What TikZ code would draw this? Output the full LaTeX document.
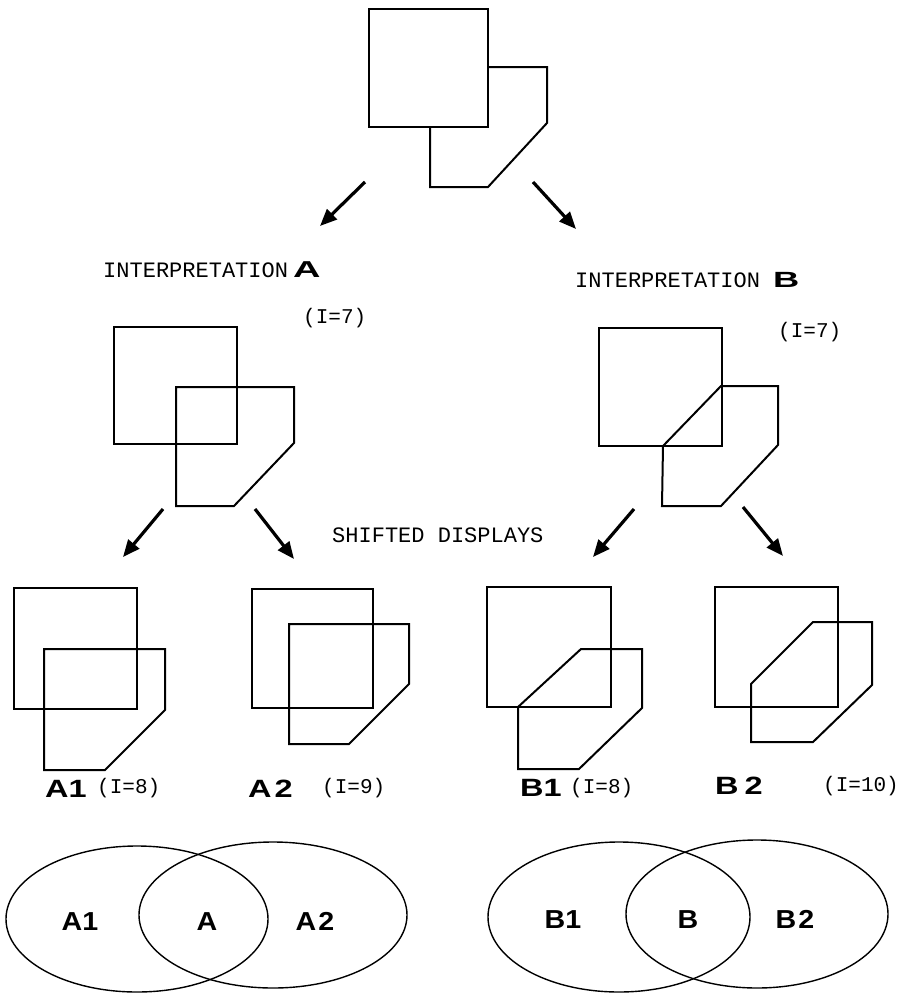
\documentclass[tikz,border=0pt]{standalone}
\usepackage{fontspec}
\setmainfont{Liberation Sans}
\newfontfamily\typefont{Liberation Mono}
\newfontfamily\wideletter[FakeStretch=1.65]{Liberation Sans}
\newfontfamily\shiftletter[FakeStretch=1.3]{Liberation Sans}
\newfontfamily\setletter[FakeStretch=1.1]{Liberation Sans}
\usetikzlibrary{arrows.meta}
\tikzset{
  outline/.style={line width=2pt, line join=miter},
  pointer/.style={line width=3.2pt, -{Triangle[length=17pt,width=14pt]}},
  tw/.style={inner sep=0pt, font=\typefont\fontsize{22}{24}\selectfont},
  twsmall/.style={inner sep=0pt, font=\typefont\fontsize{21}{23}\selectfont},
  caselabel/.style={inner sep=0pt, font=\shiftletter\bfseries\fontsize{25}{27}\selectfont},
  setlabel/.style={inner sep=0pt, font=\setletter\bfseries\fontsize{26}{28}\selectfont},
  venn/.style={line width=1.4pt}
}
\begin{document}
\begin{tikzpicture}[x=1pt,y=-1pt]
\useasboundingbox (0,0) rectangle (906,996);

% ---- ambiguous drawing ----
\draw[outline] (369,9) rectangle (488,127);
\draw[outline] (488,67) -- (547,67) -- (547,123) -- (488,187) -- (430,187) -- (430,127);

\coordinate (topL-s) at (365,182);
\coordinate (topL-e) at (320,226);
\coordinate (topR-s) at (533,182);
\coordinate (topR-e) at (576,229);
\draw[pointer] (topL-s) -- (topL-e);
\draw[pointer] (topR-s) -- (topR-e);

% ---- interpretation A ----
\node[tw, anchor=base west] (intA) at (103,277) {INTERPRETATION\hspace{5pt}{\wideletter\bfseries\fontsize{23}{25}\selectfont A}};
\node[twsmall, anchor=base west] (iA) at (303,323) {(I=7)};
\draw[outline] (114,327) rectangle (237,444);
\draw[outline] (176,387) -- (294,387) -- (294,443) -- (234,506) -- (176,506) -- cycle;

% ---- interpretation B ----
\node[tw, anchor=base west] (intB) at (575,287) {INTERPRETATION {\wideletter\bfseries\fontsize{22}{24}\selectfont B}};
\node[twsmall, anchor=base west] (iB) at (778,337) {(I=7)};
\draw[outline] (599,328) rectangle (722,446);
\draw[outline] (663,446) -- (721,386) -- (778,386) -- (778,445) -- (721,506) -- (662,506) -- cycle;

% ---- arrows to shifted displays ----
\coordinate (aL-s) at (163,509);
\coordinate (aL-e) at (123,557);
\coordinate (aR-s) at (255,509);
\coordinate (aR-e) at (294,559);
\coordinate (bL-s) at (634,509);
\coordinate (bL-e) at (593,557);
\coordinate (bR-s) at (743,507);
\coordinate (bR-e) at (783,556);
\draw[pointer] (aL-s) -- (aL-e);
\draw[pointer] (aR-s) -- (aR-e);
\draw[pointer] (bL-s) -- (bL-e);
\draw[pointer] (bR-s) -- (bR-e);

\node[tw, anchor=base west] (shifted) at (332,542) {SHIFTED DISPLAYS};

% ---- shifted displays ----
% A1
\draw[outline] (14,588) rectangle (137,709);
\draw[outline] (44,649) -- (165,649) -- (165,710) -- (105,770) -- (44,770) -- cycle;
% A2
\draw[outline] (252,589) rectangle (373,708);
\draw[outline] (289,624) -- (409,624) -- (409,684) -- (349,744) -- (289,744) -- cycle;
% B1
\draw[outline] (487,587) rectangle (611,707);
\draw[outline] (518,707) -- (581,649) -- (642,649) -- (642,708) -- (579,769) -- (518,769) -- cycle;
% B2
\draw[outline] (715,587) rectangle (838,707);
\draw[outline] (751,684) -- (813,622) -- (872,622) -- (872,685) -- (813,742) -- (751,742) -- cycle;

% labels under the displays
\node[caselabel, anchor=base west] (labA1) at (45,797) {A1};
\node[twsmall, anchor=base west] (iA1) at (97,793) {(I=8)};
\node[caselabel, anchor=base west] (labA2) at (248,797) {A\kern3pt 2};
\node[twsmall, anchor=base west] (iA2) at (322,793) {(I=9)};
\node[caselabel, anchor=base west] (labB1) at (520,796) {B1};
\node[twsmall, anchor=base west] (iB1) at (570,793) {(I=8)};
\node[caselabel, anchor=base west] (labB2) at (715,794) {B\kern6pt 2};
\node[twsmall, anchor=base west] (iB2) at (823,791) {(I=10)};

% ---- overlapping sets ----
\draw[venn] (137,919) ellipse [x radius=131pt, y radius=73pt];
\draw[venn] (273,915) ellipse [x radius=134pt, y radius=73pt];
\draw[venn] (619,917) ellipse [x radius=131pt, y radius=75pt];
\draw[venn] (757,914) ellipse [x radius=131pt, y radius=74pt];

\node[setlabel, anchor=base] (setA1) at (80,930) {A1};
\node[setlabel, anchor=base] (setA)  at (207,930) {A};
\node[setlabel, anchor=base] (setA2) at (315,930) {A\kern2pt 2};
\node[setlabel, anchor=base] (setB1) at (563,928) {B1};
\node[setlabel, anchor=base] (setB)  at (688,928) {B};
\node[setlabel, anchor=base] (setB2) at (795,928) {B\kern2pt 2};
\end{tikzpicture}
\end{document}
